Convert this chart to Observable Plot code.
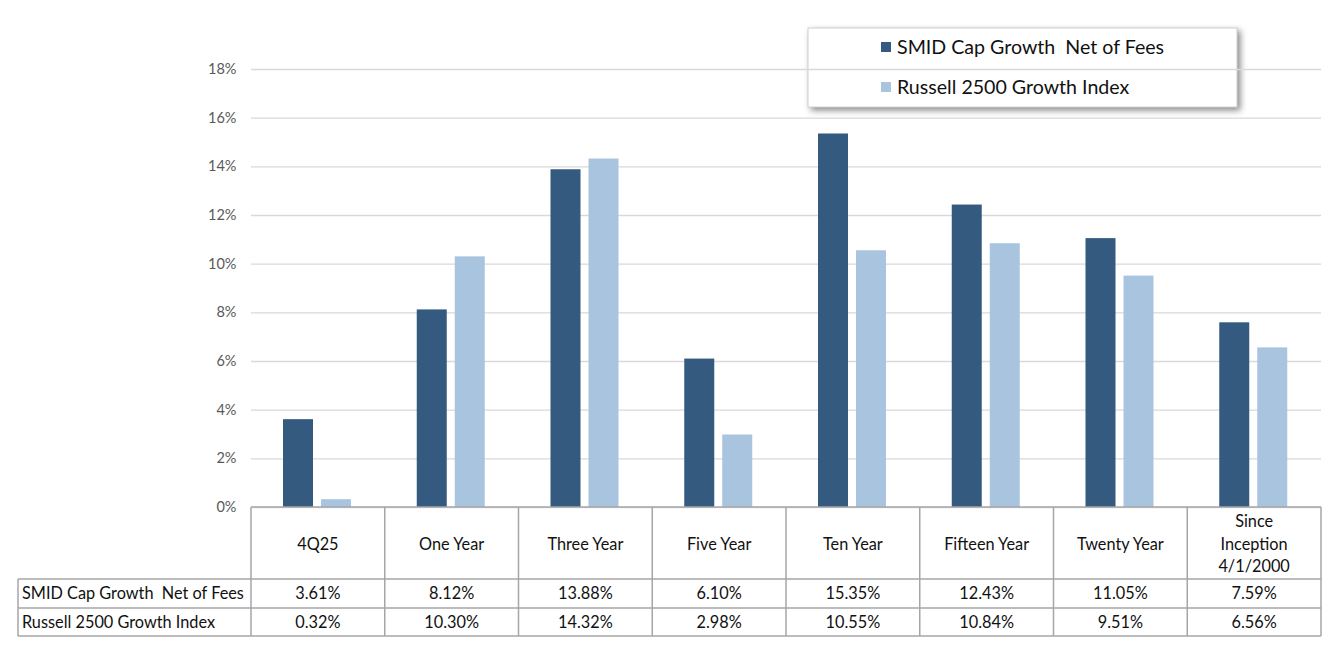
<!DOCTYPE html>
<html><head><meta charset="utf-8">
<script src="https://cdn.jsdelivr.net/npm/d3@7"></script>
<script src="https://cdn.jsdelivr.net/npm/@observablehq/plot@0.6"></script>
<style>body{margin:0;background:#fff;}</style>
</head><body><div id="chart"></div>
<script>
const categories = ["4Q25","One Year","Three Year","Five Year","Ten Year","Fifteen Year","Twenty Year","Since Inception 4/1/2000"];
const headerLabels = [["4Q25"],["One Year"],["Three Year"],["Five Year"],["Ten Year"],["Fifteen Year"],["Twenty Year"],["Since","Inception","4/1/2000"]];
const seriesNames = ["SMID Cap Growth  Net of Fees","Russell 2500 Growth Index"];
const smidValues = [3.61, 8.12, 13.88, 6.10, 15.35, 12.43, 11.05, 7.59];
const russellValues = [0.32, 10.30, 14.32, 2.98, 10.55, 10.84, 9.51, 6.56];
const smidLabels = ["3.61%","8.12%","13.88%","6.10%","15.35%","12.43%","11.05%","7.59%"];
const russellLabels = ["0.32%","10.30%","14.32%","2.98%","10.55%","10.84%","9.51%","6.56%"];
const seriesColors = ["#345a80","#a9c4de"];
const yTicks = [0,2,4,6,8,10,12,14,16,18];

const smidData = categories.map((c,i)=>({category:c, value:smidValues[i]}));
const russellData = categories.map((c,i)=>({category:c, value:russellValues[i]}));

const FONT = "Lato, 'Open Sans', sans-serif";
const TXT = "#111";

function legendMark(index, scales, values, dims) {
  const g = d3.create("svg:g");
  const x0 = dims.width - 523, y0 = 28, w = 429, h = 79;
  g.append("rect").attr("x", x0).attr("y", y0).attr("width", w).attr("height", h)
    .attr("fill", "white").attr("stroke", "#d0d0d0")
    .style("filter", "drop-shadow(3px 3px 3px rgba(0,0,0,0.45))");
  seriesNames.forEach((name, i) => {
    const cy = y0 + 19 + i * 40;
    g.append("rect").attr("x", x0 + 73).attr("y", cy - 5).attr("width", 10).attr("height", 10).attr("fill", seriesColors[i]);
    g.append("text").attr("x", x0 + 89).attr("y", cy).attr("dy", "0.35em")
      .attr("text-anchor", "start").attr("fill", TXT)
      .style("font-size", "19.6px").style("font-family", FONT).style("white-space", "pre")
      .attr("xml:space", "preserve")
      .text(name);
  });
  return g.node();
}

function tableMark(index, scales, values, dims) {
  const x = scales.x;
  const {width, height, marginLeft, marginRight, marginBottom} = dims;
  const top = height - marginBottom;
  const step = x(categories[1]) - x(categories[0]);
  const left = 18, right = width - marginRight;
  const r1 = top + 72, r2 = r1 + 29, r3 = r2 + 28;
  const g = d3.create("svg:g").style("font-family", FONT);
  const stroke = "#a6a6a6";
  const fs = "16.3px";
  g.append("line").attr("x1", marginLeft).attr("x2", right).attr("y1", top).attr("y2", top).attr("stroke", stroke).attr("stroke-width", 1.5);
  [r1, r2, r3].forEach(y => g.append("line").attr("x1", left).attr("x2", right).attr("y1", y).attr("y2", y).attr("stroke", stroke).attr("stroke-width", 1.5));
  g.append("line").attr("x1", left).attr("x2", left).attr("y1", r1).attr("y2", r3).attr("stroke", stroke).attr("stroke-width", 1.5);
  categories.forEach((c, i) => {
    const xl = x(c);
    g.append("line").attr("x1", xl).attr("x2", xl).attr("y1", top).attr("y2", r3).attr("stroke", stroke).attr("stroke-width", 1.5);
  });
  g.append("line").attr("x1", right).attr("x2", right).attr("y1", top).attr("y2", r3).attr("stroke", stroke).attr("stroke-width", 1.5);
  categories.forEach((c, i) => {
    const cx = x(c) + step / 2;
    const lines = headerLabels[i];
    const cy = (top + r1) / 2 + 1;
    lines.forEach((t, j) => {
      g.append("text").attr("x", cx).attr("y", cy + (j - (lines.length - 1) / 2) * 22.5).attr("dy", "0.35em")
        .attr("text-anchor", "middle").attr("fill", TXT).style("font-size", fs).text(t);
    });
    g.append("text").attr("x", cx).attr("y", (r1 + r2) / 2).attr("dy", "0.35em")
      .attr("text-anchor", "middle").attr("fill", TXT).style("font-size", fs).text(smidLabels[i]);
    g.append("text").attr("x", cx).attr("y", (r2 + r3) / 2).attr("dy", "0.35em")
      .attr("text-anchor", "middle").attr("fill", TXT).style("font-size", fs).text(russellLabels[i]);
  });
  [[seriesNames[0], (r1 + r2) / 2], [seriesNames[1], (r2 + r3) / 2]].forEach(([t, y]) => {
    g.append("text").attr("x", left + 4).attr("y", y).attr("dy", "0.35em").attr("text-anchor", "start")
      .attr("fill", TXT).style("font-size", fs).style("white-space", "pre").attr("xml:space", "preserve").text(t);
  });
  return g.node();
}

const chart = Plot.plot({
  width: 1331, height: 651,
  marginTop: 69, marginBottom: 144, marginLeft: 251, marginRight: 10,
  style: {fontFamily: FONT, fontSize: "14.5px", color: "#595959", background: "white"},
  x: {domain: categories, padding: 0, round: false, axis: null},
  y: {domain: [0, 18], ticks: yTicks, tickFormat: d => d + "%", tickSize: 0, tickPadding: 15, label: null},
  marks: [
    legendMark,
    Plot.gridY(yTicks, {stroke: "#d9d9d9", strokeOpacity: 1, strokeWidth: 1.3}),
    Plot.barY(smidData, {x: "category", y: "value", fill: seriesColors[0], insetLeft: 32, insetRight: 71.75}),
    Plot.barY(russellData, {x: "category", y: "value", fill: seriesColors[1], insetLeft: 70, insetRight: 33.75}),
    tableMark
  ]
});
document.getElementById("chart").appendChild(chart);
</script>
</body></html>
